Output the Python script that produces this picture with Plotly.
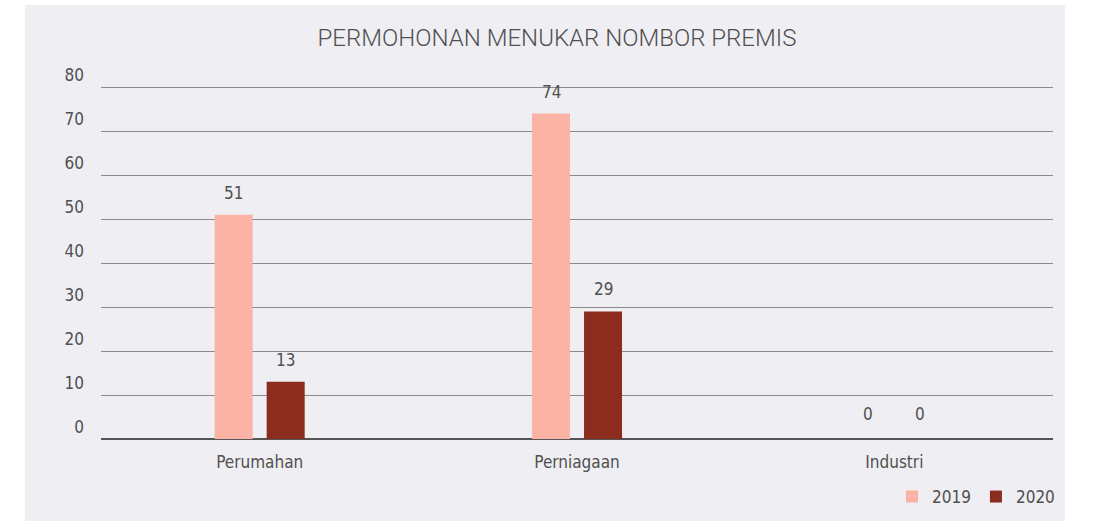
import plotly.graph_objects as go

categories = ["Perumahan", "Perniagaan", "Industri"]
series_names = ["2019", "2020"]
values_2019 = [51, 74, 0]
values_2020 = [13, 29, 0]
colors = ["#fbb3a5", "#8b2c1e"]
title = "PERMOHONAN MENUKAR NOMBOR PREMIS"

FONT = ("Liberation Sans Narrow, Noto Sans ExtraCondensed Light, Noto Sans Condensed Light, "
        "DejaVu Sans Condensed, sans-serif")
TITLE_FONT = "Roboto, sans-serif"
TXT = "#505050"

W, H = 1098, 521
L, R, T, B = 101, 45, 85, 82
pw, ph = W - L - R, H - T - B

fig = go.Figure()
for name, vals, col in zip(series_names, [values_2019, values_2020], colors):
    fig.add_trace(go.Bar(
        x=categories, y=vals, name=name, marker=dict(color=col, line=dict(width=0)),
    ))

# value labels above bars
for shift, vals in zip([-26, 26], [values_2019, values_2020]):
    for c, v in zip(categories, vals):
        fig.add_annotation(x=c, y=v, xref="x", yref="y", text=str(v), showarrow=False,
                           xshift=shift, yshift=22 if v > 0 else 25, yanchor="middle",
                           font=dict(family=FONT, size=17, color=TXT))


def px_x(p):
    return (p - L) / pw


def px_y(p):
    return (H - B - p) / ph


fig.add_shape(type="rect", xref="paper", yref="paper",
              x0=px_x(25), x1=px_x(1065), y0=px_y(521), y1=px_y(5),
              fillcolor="#efeef3", line=dict(width=0), layer="below")

fig.update_layout(
    width=W, height=H,
    margin=dict(l=L, r=R, t=T, b=B, autoexpand=False),
    paper_bgcolor="white", plot_bgcolor="rgba(0,0,0,0)",
    barmode="group", bargap=0.672, bargroupgap=0.27,
    font=dict(family=FONT, color=TXT, size=16),
    title=dict(text=title, x=557 / W, xanchor="center", y=1 - 38 / H, yanchor="middle",
               font=dict(family=TITLE_FONT, size=24, color=TXT, weight=300)),
    legend=dict(orientation="h", xref="container", yref="container",
                x=1060 / W, xanchor="right", y=1 - 497 / H, yanchor="middle",
                font=dict(family=FONT, size=17, color=TXT), itemwidth=30,
                bgcolor="rgba(0,0,0,0)", traceorder="normal"),
    showlegend=True,
)
fig.update_xaxes(showgrid=False, showline=False, ticks="", ticklabelstandoff=11,
                 automargin=False, tickfont=dict(size=17, color=TXT))
fig.update_yaxes(range=[0, 80.5], tickvals=[0, 10, 20, 30, 40, 50, 60, 70, 80],
                 showgrid=True, gridcolor="#8a8a8a", gridwidth=1,
                 zeroline=True, zerolinecolor="#555555", zerolinewidth=2,
                 showline=False, ticks="", ticklabelposition="outside top",
                 automargin=False,
                 ticklabelstandoff=16, tickfont=dict(size=17, color=TXT))

fig.write_html("out.html", config={"displayModeBar": False},
               post_script="document.body.style.margin='0';")
